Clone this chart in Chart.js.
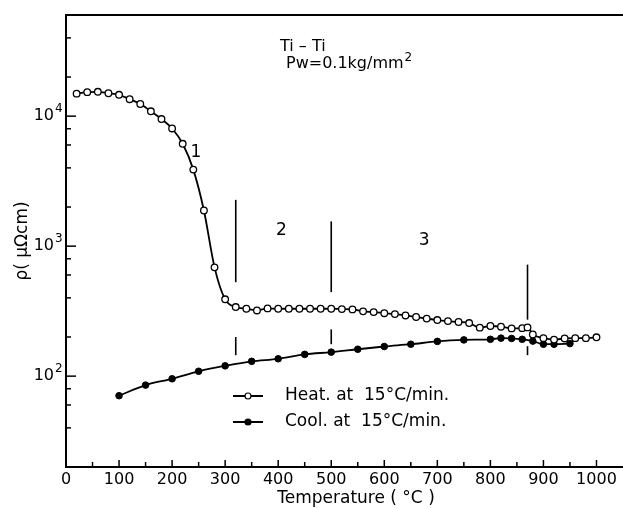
<!DOCTYPE html>
<html>
<head>
<meta charset="utf-8">
<script src="https://cdn.jsdelivr.net/npm/chart.js@4"></script>
<style>
  html, body { margin: 0; padding: 0; background: #fff; }
  #wrap { width: 623px; height: 509px; }
</style>
</head>
<body>
<div id="wrap"><canvas id="chart" width="623" height="509"></canvas></div>
<script>
// Heating run (open circles)
const heatTemps = [20, 40, 60, 80, 100, 120, 140, 160, 180, 200, 220, 240, 260, 280, 300,
    320, 340, 360, 380, 400, 420, 440, 460, 480, 500, 520, 540, 560, 580, 600, 620, 640,
    660, 680, 700, 720, 740, 760, 780, 800, 820, 840, 860, 870, 880, 900, 920, 940, 960, 980, 1000];
const heatRho = [14900, 15300, 15400, 15000, 14600, 13500, 12400, 10900, 9500, 8040, 6130, 3880, 1880, 687, 390,
    340, 330, 320, 332, 330, 330, 330, 330, 330, 330, 328, 326, 315, 311, 305, 300, 293,
    285, 277, 270, 265, 261, 256, 236, 243, 240, 233, 234, 237, 209, 196, 191, 195, 196, 196, 199];

// Cooling run (filled circles)
const coolTemps = [100, 150, 200, 250, 300, 350, 400, 450, 500, 550, 600, 650, 700, 750, 800, 820, 840, 860, 880, 900, 920, 950];
const coolRho = [70.7, 85.3, 95.4, 109, 120, 130, 136, 147, 153, 161, 169, 176, 185, 190, 192, 196, 195, 192, 186, 176, 176, 178];

// Axis ticks
const xTicks = [];
for (let t = 0; t <= 1000; t += 50) xTicks.push(t);
const yTicks = [20, 40, 60, 80, 100, 200, 400, 600, 800, 1000, 2000, 4000, 6000, 8000, 10000, 20000, 40000];
const yExponents = { 100: '2', 1000: '3', 10000: '4' };

// Stage boundaries (vertical marks, upper and lower pieces)
const markerTemps = [320, 500, 870];
const markerUpper = [[2270, 528], [1550, 443], [721, 272]];
const markerLower = [[200, 145], [229, 176], [170, 145]];

// Stage numbers
const stageLabels = ['1', '2', '3'];
const stageTemps = [245, 406, 675];
const stageRho = [5260, 1315, 1100];

const FONT = '"DejaVu Sans", sans-serif';

function pairs(xs, ys) {
    return xs.map((x, i) => ({ x: x, y: ys[i] }));
}

const decor = {
    id: 'decor',
    afterDraw(chart) {
        const ctx = chart.ctx;
        const xs = chart.scales.x;
        const ys = chart.scales.y;
        const area = chart.chartArea;
        ctx.save();
        ctx.strokeStyle = '#000';
        ctx.fillStyle = '#000';

        // top frame line
        ctx.lineWidth = 2;
        ctx.beginPath();
        ctx.moveTo(area.left, area.top);
        ctx.lineTo(area.right, area.top);
        ctx.stroke();

        // inward tick marks
        ctx.lineWidth = 1.5;
        xTicks.forEach(t => {
            const px = xs.getPixelForValue(t);
            const len = t % 100 === 0 ? 7 : 5;
            ctx.beginPath();
            ctx.moveTo(px, area.bottom);
            ctx.lineTo(px, area.bottom - len);
            ctx.stroke();
        });
        yTicks.forEach(v => {
            const py = ys.getPixelForValue(v);
            const len = yExponents[v] ? 10 : 5;
            ctx.beginPath();
            ctx.moveTo(area.left, py);
            ctx.lineTo(area.left + len, py);
            ctx.stroke();
        });

        // exponents of the y labels
        ctx.font = '12px ' + FONT;
        ctx.textAlign = 'left';
        ctx.textBaseline = 'middle';
        Object.keys(yExponents).forEach(v => {
            ctx.fillText(yExponents[v], area.left - 11, ys.getPixelForValue(+v) - 7);
        });

        // stage boundaries
        ctx.lineWidth = 1.6;
        markerTemps.forEach((t, i) => {
            const px = xs.getPixelForValue(t);
            [markerUpper[i], markerLower[i]].forEach(seg => {
                ctx.beginPath();
                ctx.moveTo(px, ys.getPixelForValue(seg[0]));
                ctx.lineTo(px, ys.getPixelForValue(seg[1]));
                ctx.stroke();
            });
        });

        // stage numbers
        ctx.font = '17px ' + FONT;
        ctx.textAlign = 'center';
        stageLabels.forEach((s, i) => {
            ctx.fillText(s, xs.getPixelForValue(stageTemps[i]), ys.getPixelForValue(stageRho[i]));
        });

        // sample note
        ctx.textAlign = 'left';
        ctx.font = '16px ' + FONT;
        ctx.fillText('Ti – Ti', 280, 47);
        ctx.fillText('Pw=0.1kg/mm', 286, 64);
        const w = ctx.measureText('Pw=0.1kg/mm').width;
        ctx.font = '12px ' + FONT;
        ctx.fillText('2', 286 + w + 1, 58);

        // legend
        const legend = [
            { text: 'Heat. at  15°C/min.', y: 396, fill: '#fff' },
            { text: 'Cool. at  15°C/min.', y: 422, fill: '#000' }
        ];
        ctx.font = '17px ' + FONT;
        legend.forEach(item => {
            ctx.lineWidth = 2;
            ctx.beginPath();
            ctx.moveTo(233, item.y);
            ctx.lineTo(263, item.y);
            ctx.stroke();
            ctx.beginPath();
            ctx.arc(248, item.y, 3, 0, Math.PI * 2);
            ctx.fillStyle = item.fill;
            ctx.fill();
            ctx.lineWidth = 1.2;
            ctx.stroke();
            ctx.fillStyle = '#000';
            ctx.fillText(item.text, 285, item.y);
        });

        // x title
        ctx.textAlign = 'center';
        ctx.font = '17px ' + FONT;
        ctx.fillText('Temperature ( °C )', 356, 499);
        ctx.restore();
    }
};

new Chart(document.getElementById('chart'), {
    type: 'line',
    data: {
        datasets: [
            {
                label: 'Heat. at 15°C/min.',
                data: pairs(heatTemps, heatRho),
                borderColor: '#000',
                borderWidth: 1.8,
                pointRadius: 3.3,
                pointBackgroundColor: '#fff',
                pointBorderColor: '#000',
                pointBorderWidth: 1.3,
                cubicInterpolationMode: 'monotone'
            },
            {
                label: 'Cool. at 15°C/min.',
                data: pairs(coolTemps, coolRho),
                borderColor: '#000',
                borderWidth: 1.8,
                pointRadius: 3.3,
                pointBackgroundColor: '#000',
                pointBorderColor: '#000',
                pointBorderWidth: 1,
                cubicInterpolationMode: 'monotone'
            }
        ]
    },
    options: {
        responsive: false,
        animation: false,
        layout: { autoPadding: false, padding: { top: 15, right: 0, bottom: 0, left: 0 } },
        plugins: {
            legend: { display: false },
            tooltip: { enabled: false }
        },
        scales: {
            x: {
                type: 'linear',
                min: 0,
                max: 1050,
                grid: { display: false, drawTicks: false },
                border: { display: true, color: '#000', width: 2 },
                afterBuildTicks: s => { s.ticks = xTicks.map(v => ({ value: v })); },
                afterFit: s => { s.height = 42; s.paddingRight = 0; s.paddingLeft = 0; },
                ticks: {
                    autoSkip: false,
                    maxRotation: 0,
                    padding: 3,
                    color: '#000',
                    font: { family: FONT, size: 16 },
                    callback: v => (v % 100 === 0 ? String(v) : '')
                }
            },
            y: {
                type: 'logarithmic',
                min: 20,
                max: 60000,
                grid: { display: false, drawTicks: false },
                border: { display: true, color: '#000', width: 2 },
                afterBuildTicks: s => { s.ticks = yTicks.map(v => ({ value: v })); },
                afterFit: s => { s.width = 66; s.paddingTop = 0; s.paddingBottom = 0; },
                title: {
                    display: true,
                    text: 'ρ( μΩcm)',
                    color: '#000',
                    font: { family: FONT, size: 17 },
                    padding: { top: 12, bottom: 0 }
                },
                ticks: {
                    autoSkip: false,
                    padding: 12,
                    color: '#000',
                    font: { family: FONT, size: 16 },
                    callback: v => (yExponents[v] ? '10' : '')
                }
            }
        }
    },
    plugins: [decor]
});
</script>
</body>
</html>
